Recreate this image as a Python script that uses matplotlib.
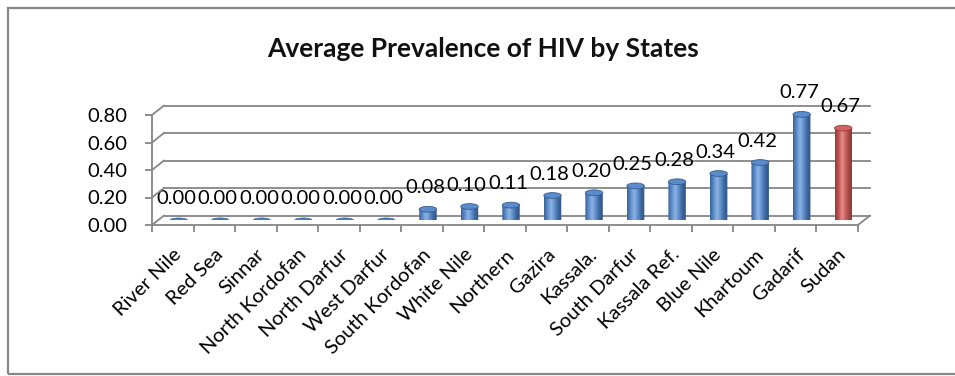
import numpy as np
import matplotlib
matplotlib.use("Agg")
from matplotlib import pyplot as plt
from matplotlib.patches import Ellipse, Rectangle, PathPatch, ConnectionPatch
from matplotlib.path import Path
from matplotlib.colors import LinearSegmentedColormap

# prevalence by state (last one is the national figure)
states = ['River Nile', 'Red Sea', 'Sinnar', 'North Kordofan', 'North Darfur',
          'West Darfur', 'South Kordofan', 'White Nile', 'Northern', 'Gazira',
          'Kassala.', 'South Darfur', 'Kassala Ref.', 'Blue Nile', 'Khartoum',
          'Gadarif', 'Sudan']
prevalence = [0.00, 0.00, 0.00, 0.00, 0.00, 0.00, 0.08, 0.10, 0.11, 0.18,
              0.20, 0.25, 0.28, 0.34, 0.42, 0.77, 0.67]
yticks = [0.0, 0.2, 0.4, 0.6, 0.8]

plt.rcParams['font.family'] = ['Lato', 'DejaVu Sans']

W, H = 955, 376
DX, DY = 12, 9.5          # depth of the 3d box in pixels
grid_col = '#868686'
fs = 14.5

fig = plt.figure(figsize=(W / 100, H / 100), dpi=100)
fig.patch.set_facecolor('white')

# chart area border
fig.add_artist(Rectangle((8 / W, 2 / H), 1.2, 366 / H, transform=fig.transFigure,
                         fill=False, edgecolor='#878787', lw=1.6))

fig.text(483 / W, (H - 57) / H, 'Average Prevalence of HIV by States',
         ha='center', va='baseline', fontsize=19, fontweight='bold', color='#111111')

rect = [152 / W, 151 / H, 706 / W, 110 / H]


def shifted(r, dx, dy):
    return [r[0] + dx / W, r[1] + dy / H, r[2], r[3]]


xlim = (-0.5, len(states) - 0.5)
ylim = (0, 0.8)

# back wall
back = fig.add_axes(shifted(rect, DX, DY))
back.set_xlim(*xlim)
back.set_ylim(*ylim)
back.axis('off')
for v in yticks:
    back.plot(xlim, [v, v], color=grid_col, lw=1.3, clip_on=False)

# front axes (ticks and labels)
ax = fig.add_axes(rect)
ax.set_xlim(*xlim)
ax.set_ylim(*ylim)
ax.patch.set_visible(False)
for s in ['top', 'right']:
    ax.spines[s].set_visible(False)
for s in ['left', 'bottom']:
    ax.spines[s].set_color(grid_col)
    ax.spines[s].set_linewidth(1.3)
ax.set_yticks(yticks)
ax.set_yticklabels(['%.2f' % v for v in yticks], fontsize=fs)
ax.tick_params(axis='y', length=5, width=1.3, color=grid_col, pad=13)
x = np.arange(len(states))
ax.set_xticks(x)
ax.set_xticklabels(states, fontsize=fs, rotation=45, ha='right',
                   rotation_mode='anchor')
ax.tick_params(axis='x', which='major', length=0, pad=15)
ax.set_xticks(np.arange(len(states) + 1) - 0.5, minor=True)
ax.tick_params(axis='x', which='minor', length=5, width=1.3, color=grid_col)

# side wall and floor diagonals
for v in yticks:
    fig.add_artist(ConnectionPatch((xlim[0], v), (xlim[0], v), ax.transData, back.transData,
                                   color=grid_col, lw=1.3))
fig.add_artist(ConnectionPatch((xlim[1], 0), (xlim[1], 0), ax.transData, back.transData,
                               color=grid_col, lw=1.3))

# bars sit half way into the box
bars = fig.add_axes(shifted(rect, DX / 2, DY / 2))
bars.axis('off')

blue = LinearSegmentedColormap.from_list('b', ['#3a6296', '#5b8ccb', '#8fb4e3', '#5f8fcc', '#3d679c', '#2f5586'])
red = LinearSegmentedColormap.from_list('r', ['#953a37', '#c4524f', '#e0908d', '#c9605c', '#a24440', '#86302d'])
bw = 0.42
eh = 0.042
for i, v in enumerate(prevalence):
    cmap = red if states[i] == 'Sudan' else blue
    top_col = '#d2635f' if states[i] == 'Sudan' else '#5a8ccb'
    if v > 0:
        verts = [(i - bw / 2, v), (i - bw / 2, 0)]
        t = np.linspace(np.pi, 2 * np.pi, 20)
        verts += [(i + bw / 2 * np.cos(a), eh / 2 * np.sin(a)) for a in t]
        verts += [(i + bw / 2, v), (i - bw / 2, v)]
        body = PathPatch(Path(verts, closed=True), facecolor='none', edgecolor='none',
                         transform=bars.transData)
        bars.add_patch(body)
        im = bars.imshow(np.linspace(0, 1, 64)[None, :], cmap=cmap, aspect='auto',
                         extent=(i - bw / 2, i + bw / 2, -eh, v), interpolation='bilinear')
        im.set_clip_path(body)
        bars.add_patch(Ellipse((i, v), bw, eh, facecolor=top_col, edgecolor=cmap(0.9), lw=0.6))
    else:
        bars.add_patch(Ellipse((i, v), bw, eh * 0.8, facecolor='#4a7cbc', edgecolor='#3b679e', lw=0.5))
    bars.annotate('%.2f' % v, (i, v), xytext=(-2, 11.5), textcoords='offset points',
                  ha='center', va='baseline', fontsize=fs, annotation_clip=False)
bars.set_xlim(*xlim)
bars.set_ylim(*ylim)

fig.savefig('out.png', dpi=100, facecolor='white')
